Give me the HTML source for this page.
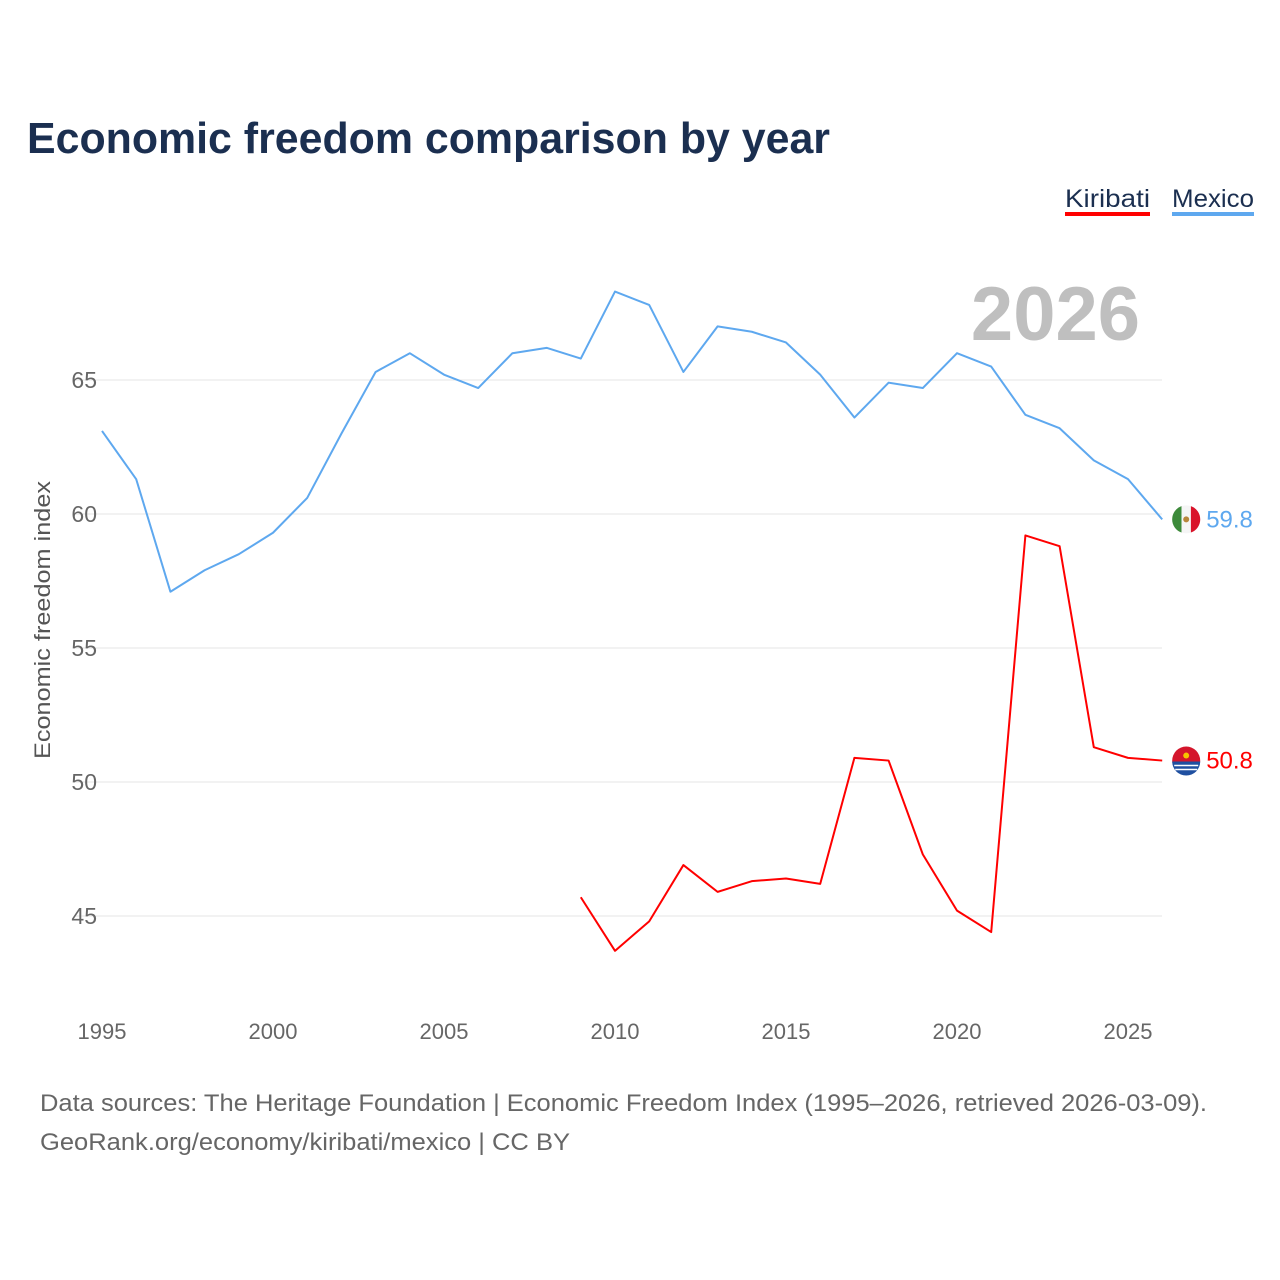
<!DOCTYPE html>
<html><head><meta charset="utf-8"><style>
body{margin:0;background:#fff;}
svg{display:block;font-family:"Liberation Sans",sans-serif;}
</style></head><body>
<svg id="chart" width="1280" height="1280">
<text x="27" y="153" font-size="44" font-weight="bold" fill="#1b2f50" textLength="803" lengthAdjust="spacingAndGlyphs">Economic freedom comparison by year</text>
<g>
<text x="1065" y="207" font-size="25" fill="#1b2f50" textLength="85" lengthAdjust="spacingAndGlyphs">Kiribati</text>
<rect x="1065" y="212" width="85" height="4" fill="#ff0000"/>
<text x="1172" y="207" font-size="25" fill="#1b2f50" textLength="82" lengthAdjust="spacingAndGlyphs">Mexico</text>
<rect x="1172" y="212" width="82" height="4" fill="#5ea8ef"/>
</g>
<text x="1140" y="340" text-anchor="end" font-size="76" font-weight="bold" fill="#bfbfbf">2026</text>
<text transform="translate(50,620) rotate(-90)" text-anchor="middle" font-size="22" fill="#555" textLength="278" lengthAdjust="spacingAndGlyphs">Economic freedom index</text>
<g id="grid"></g><g id="xt"></g><g id="series"></g>
<text x="40" y="1111" font-size="24" fill="#666" textLength="1167" lengthAdjust="spacingAndGlyphs">Data sources: The Heritage Foundation | Economic Freedom Index (1995–2026, retrieved 2026-03-09).</text>
<text x="40" y="1150" font-size="24" fill="#666" textLength="530" lengthAdjust="spacingAndGlyphs">GeoRank.org/economy/kiribati/mexico | CC BY</text>
</svg>
<script>
const yTicks=[45,50,55,60,65];
const xTicks=[1995,2000,2005,2010,2015,2020,2025];
const mexicoYears=[1995,1996,1997,1998,1999,2000,2001,2002,2003,2004,2005,2006,2007,2008,2009,2010,2011,2012,2013,2014,2015,2016,2017,2018,2019,2020,2021,2022,2023,2024,2025,2026];
const mexicoValues=[63.1,61.3,57.1,57.9,58.5,59.3,60.6,63.0,65.3,66.0,65.2,64.7,66.0,66.2,65.8,68.3,67.8,65.3,67.0,66.8,66.4,65.2,63.6,64.9,64.7,66.0,65.5,63.7,63.2,62.0,61.3,59.8];
const kiribatiYears=[2009,2010,2011,2012,2013,2014,2015,2016,2017,2018,2019,2020,2021,2022,2023,2024,2025,2026];
const kiribatiValues=[45.7,43.7,44.8,46.9,45.9,46.3,46.4,46.2,50.9,50.8,47.3,45.2,44.4,59.2,58.8,51.3,50.9,50.8];
const X=y=>102+(y-1995)*34.2;
const Y=v=>782-(v-50)*26.8;
const NS='http://www.w3.org/2000/svg';
function mk(t,a,p){const e=document.createElementNS(NS,t);for(const k in a)e.setAttribute(k,a[k]);p.appendChild(e);return e;}
const grid=document.getElementById('grid');
yTicks.forEach(v=>{
 const l=mk('line',{x1:75,x2:1162,y1:Y(v),y2:Y(v),stroke:'#e6e6e6','stroke-width':1},grid);
 
 
 const t=mk('text',{x:97,y:Y(v)+8,'text-anchor':'end','font-size':23,fill:'#666'},grid);
 t.textContent=v;
 
 
});
const xt=document.getElementById('xt');
xTicks.forEach(y=>{
 const t=mk('text',{x:X(y),y:1039,'text-anchor':'middle','font-size':22,fill:'#666'},xt);
 t.textContent=y;
 
 
});
const s=document.getElementById('series');
function line(ys,vs,c,name){
 const p=mk('polyline',{points:ys.map((y,i)=>X(y)+','+Y(vs[i])).join(' '),fill:'none',stroke:c,'stroke-width':2,'stroke-linejoin':'round'},s);
 
 
 const lx=X(ys[ys.length-1]),ly=Y(vs[vs.length-1]);
 const g=mk('g',{},s);
 
 
 if(name==='mexico'){
  mk('circle',{cx:lx+24,cy:ly,r:14,fill:'#f5f5f5'},g);
  mk('path',{d:`M${lx+24-4.7},${ly-13.2} A14,14 0 0 0 ${lx+24-4.7},${ly+13.2} Z`,fill:'#3d8a3a'},g);
  mk('path',{d:`M${lx+24+4.7},${ly-13.2} A14,14 0 0 1 ${lx+24+4.7},${ly+13.2} Z`,fill:'#d9132a'},g);
  mk('circle',{cx:lx+24,cy:ly,r:3,fill:'#b8863b'},g);
 }else{
  mk('circle',{cx:lx+24,cy:ly,r:14,fill:'#d4162c'},g);
  mk('path',{d:`M${lx+10},${ly+1} L${lx+38},${ly+1} A14,14 0 0 1 ${lx+10},${ly+1} Z`,fill:'#1f4fa0'},g);
  mk('path',{d:`M${lx+12},${ly+5} h24 M${lx+13},${ly+9} h22`,stroke:'#fff','stroke-width':1.5},g);
  mk('circle',{cx:lx+24,cy:ly-5,r:3,fill:'#f6c400'},g);
 }
 const t=mk('text',{x:lx+44,y:ly+8,'font-size':24,fill:c},s);
 t.textContent=vs[vs.length-1].toFixed(1);
 
 
}
line(mexicoYears,mexicoValues,'#5ea8ef','mexico');
line(kiribatiYears,kiribatiValues,'#ff0000','kiribati');
</script>
</body></html>
